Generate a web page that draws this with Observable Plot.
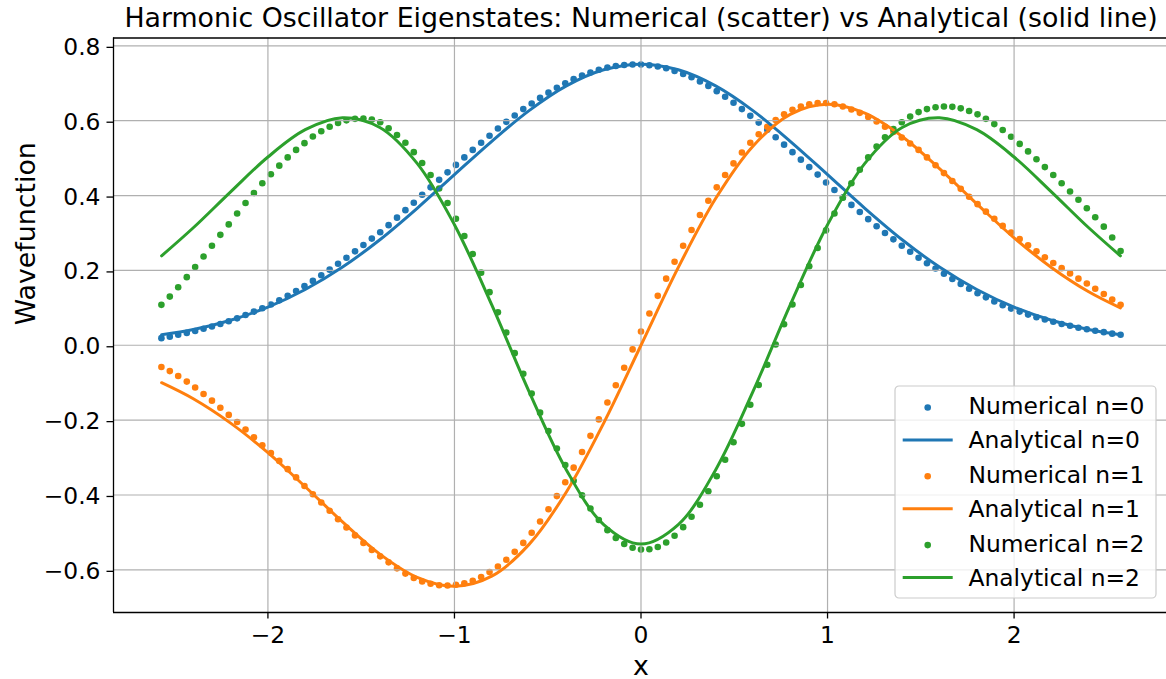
<!DOCTYPE html>
<html><head><meta charset="utf-8">
<script src="https://cdn.jsdelivr.net/npm/d3@7"></script>
<script src="https://cdn.jsdelivr.net/npm/@observablehq/plot@0.6"></script>
<style>
html,body{margin:0;padding:0;background:#fff;}
#wrap{position:relative;width:1166px;height:679px;overflow:hidden;font-family:"DejaVu Sans",sans-serif;}
</style></head><body><div id="wrap"></div>
<script>
// ---- texts ----
const titleText = "Harmonic Oscillator Eigenstates: Numerical (scatter) vs Analytical (solid line)";
const xLabel = "x";
const yLabel = "Wavefunction";
const xTicks = [-2, -1, 0, 1, 2];
const xTickLabels = ["\u22122", "\u22121", "0", "1", "2"];
const yTicks = [-0.6, -0.4, -0.2, 0, 0.2, 0.4, 0.6, 0.8];
const yTickLabels = ["\u22120.6", "\u22120.4", "\u22120.2", "0.0", "0.2", "0.4", "0.6", "0.8"];
const legendLabels = ["Numerical n=0", "Analytical n=0", "Numerical n=1", "Analytical n=1", "Numerical n=2", "Analytical n=2"];
const colors = ["#1f77b4", "#ff7f0e", "#2ca02c"];

// ---- numerical grid (scatter) ----
const xs = [-2.571,-2.526,-2.481,-2.435,-2.390,-2.345,-2.300,-2.255,-2.210,-2.165,-2.120,-2.075,-2.030,-1.984,-1.939,-1.894,-1.849,-1.804,-1.759,-1.714,-1.669,-1.624,-1.579,-1.533,-1.488,-1.443,-1.398,-1.353,-1.308,-1.263,-1.218,-1.173,-1.128,-1.082,-1.037,-0.992,-0.947,-0.902,-0.857,-0.812,-0.767,-0.722,-0.677,-0.631,-0.586,-0.541,-0.496,-0.451,-0.406,-0.361,-0.316,-0.271,-0.226,-0.180,-0.135,-0.090,-0.045,
 0.000,
 0.045,0.090,0.135,0.180,0.226,0.271,0.316,0.361,0.406,0.451,0.496,0.541,0.586,0.631,0.677,0.722,0.767,0.812,0.857,0.902,0.947,0.992,1.037,1.082,1.128,1.173,1.218,1.263,1.308,1.353,1.398,1.443,1.488,1.533,1.579,1.624,1.669,1.714,1.759,1.804,1.849,1.894,1.939,1.984,2.030,2.075,2.120,2.165,2.210,2.255,2.300,2.345,2.390,2.435,2.481,2.526,2.571];

const num0 = [0.019,0.023,0.028,0.033,0.038,0.044,0.050,0.057,0.064,0.072,0.081,0.090,0.099,0.109,0.120,0.132,0.145,0.158,0.172,0.187,0.202,0.218,0.234,0.251,0.268,0.285,0.302,
 0.321,0.341,0.361,0.381,0.402,0.422,0.442,0.462,0.482,0.502,0.522,0.541,0.560,0.579,0.597,0.614,0.631,0.646,0.661,0.675,0.688,0.700,0.711,0.721,0.729,0.736,0.742,0.746,0.749,0.750,
 0.750,0.748,0.745,0.740,0.733,0.725,0.716,0.705,0.693,0.679,0.664,0.648,0.631,0.613,0.595,0.576,0.556,0.536,0.516,0.496,0.476,0.456,0.435,0.415,0.395,0.375,0.356,0.337,0.318,0.300,0.283,0.266,0.250,0.234,
 0.219,0.205,0.191,0.177,0.164,0.151,0.139,0.128,0.117,0.107,0.098,0.090,0.082,0.075,0.069,0.063,0.057,0.052,0.047,0.043,0.039,0.035,0.031,0.028];

const num1 = [-0.058,-0.069,-0.082,-0.097,-0.113,-0.130,-0.148,-0.167,-0.186,-0.205,-0.225,-0.246,-0.267,-0.288,-0.309,-0.331,-0.353,-0.376,-0.398,-0.420,-0.442,-0.465,-0.487,-0.508,-0.528,-0.547,-0.564,
 -0.580,-0.596,-0.610,-0.622,-0.631,-0.637,-0.641,-0.642,-0.640,-0.636,-0.629,-0.619,-0.606,-0.591,-0.573,-0.552,-0.528,-0.501,-0.471,-0.438,-0.403,-0.366,-0.327,-0.285,-0.242,-0.198,-0.153,-0.107,-0.060,-0.011,
 0.037,0.085,0.132,0.178,0.223,0.266,0.308,0.348,0.386,0.422,0.455,0.486,0.515,0.541,0.564,0.584,0.602,0.617,0.629,0.638,0.644,0.647,0.647,0.644,0.638,0.630,0.621,0.610,0.598,0.584,0.570,0.555,0.539,0.522,
 0.502,0.481,0.460,0.439,0.418,0.397,0.377,0.357,0.338,0.319,0.301,0.284,0.267,0.251,0.235,0.220,0.206,0.192,0.178,0.165,0.151,0.137,0.122,0.108];

const num2 = [0.108,0.130,0.155,0.182,0.209,0.237,0.266,0.295,0.323,0.352,0.380,0.407,0.433,0.457,0.480,0.502,0.522,0.540,0.558,0.572,0.584,0.594,0.601,0.605,0.606,0.603,0.596,
 0.580,0.562,0.541,0.516,0.487,0.455,0.419,0.380,0.338,0.292,0.244,0.194,0.142,0.088,0.034,-0.021,-0.076,-0.129,-0.180,-0.229,-0.276,-0.320,-0.362,-0.401,-0.436,-0.467,-0.494,-0.515,-0.531,-0.541,
 -0.546,-0.545,-0.539,-0.527,-0.509,-0.486,-0.458,-0.426,-0.390,-0.350,-0.306,-0.259,-0.210,-0.159,-0.106,-0.052,0.002,0.056,0.109,0.161,0.211,0.260,0.307,0.352,0.394,0.433,0.469,0.502,0.531,0.556,0.578,0.596,0.611,0.623,
 0.631,0.636,0.638,0.637,0.633,0.626,0.617,0.605,0.591,0.575,0.557,0.538,0.518,0.497,0.476,0.455,0.433,0.411,0.389,0.366,0.342,0.317,0.288,0.252];

// ---- analytical curves (sampled) ----
const ax = [-2.57,-2.4,-2.2,-2.0,-1.8,-1.6,-1.4,-1.2,-1.0,-0.8,-0.6,-0.4,-0.2,0,0.2,0.4,0.6,0.8,1.0,1.2,1.4,1.6,1.8,2.0,2.2,2.4,2.57];
const ana0 = [0.028,0.042,0.067,0.102,0.149,0.209,0.282,0.366,0.456,0.545,0.627,0.693,0.736,0.751,0.736,0.693,0.627,0.545,0.456,0.366,0.282,0.209,0.149,0.102,0.067,0.042,0.028];
const ana1 = [-0.100,-0.143,-0.208,-0.287,-0.378,-0.472,-0.558,-0.620,-0.644,-0.617,-0.532,-0.392,-0.208,0,0.208,0.392,0.532,0.617,0.644,0.620,0.558,0.472,0.378,0.287,0.208,0.143,0.100];
const ana2 = [0.239,0.314,0.410,0.503,0.576,0.608,0.582,0.486,0.322,0.108,-0.124,-0.333,-0.479,-0.531,-0.479,-0.333,-0.124,0.108,0.322,0.486,0.582,0.608,0.576,0.503,0.410,0.314,0.239];

// ---- tables ----
const numSeries = [num0, num1, num2];
const anaSeries = [ana0, ana1, ana2];
const numTables = numSeries.map(s => xs.map((x, i) => ({x, y: s[i]})));
const anaTables = anaSeries.map(s => ax.map((x, i) => ({x, y: s[i]})));

const xDomain = [-2.8278, 2.8278];
const yDomain = [-0.714, 0.821];
const gridStyle = {stroke: "#b0b0b0", strokeOpacity: 1, strokeWidth: 1.2};

const chart = Plot.plot({
  width: 1166, height: 679,
  marginLeft: 113, marginRight: -2, marginTop: 37.5, marginBottom: 67,
  x: {domain: xDomain},
  y: {domain: yDomain},
  style: {fontFamily: "DejaVu Sans", background: "white", color: "black", overflow: "hidden"},
  marks: [
    ...numTables.map((t, k) => Plot.dot(t, {x: "x", y: "y", r: 3.3, fill: colors[k], stroke: "none"})),
    Plot.gridX(xTicks, gridStyle),
    Plot.gridY(yTicks, gridStyle),
    ...anaTables.map((t, k) => Plot.line(t, {x: "x", y: "y", stroke: colors[k], strokeWidth: 3, curve: "catmull-rom"})),
    Plot.ruleX([xDomain[0]], {stroke: "black", strokeWidth: 1.3}),
    Plot.ruleY([yDomain[0], yDomain[1]], {stroke: "black", strokeWidth: 1.3}),
    Plot.axisX(xTicks, {tickFormat: d => xTickLabels[xTicks.indexOf(d)], fontSize: 23.4, tickSize: 6.5, tickPadding: 7.2, strokeWidth: 1.3, label: null}),
    Plot.axisY(yTicks, {tickFormat: d => yTickLabels[yTicks.indexOf(d)], fontSize: 23.4, tickSize: 6.5, tickPadding: 6.5, strokeWidth: 1.3, label: null, dy: 1.5}),
    Plot.text([titleText], {frameAnchor: "top", lineAnchor: "bottom", dy: -11.5, fontSize: 26.8}),
    Plot.text([xLabel], {frameAnchor: "bottom", lineAnchor: "bottom", dy: 62, fontSize: 26.8}),
    Plot.text([yLabel], {frameAnchor: "left", lineAnchor: "bottom", rotate: -90, dx: -78.5, fontSize: 26.8})
  ]
});
document.getElementById("wrap").appendChild(chart);

// ---- legend ----
const lg = d3.select("#wrap").append("svg")
  .attr("width", 268).attr("height", 218)
  .style("position", "absolute").style("left", "892px").style("top", "383px")
  .style("font-family", "DejaVu Sans");
lg.append("rect").attr("x", 3).attr("y", 3).attr("width", 261).attr("height", 212).attr("rx", 4)
  .attr("fill", "white").attr("fill-opacity", 0.8).attr("stroke", "#cccccc").attr("stroke-width", 1.2);
legendLabels.forEach((lab, i) => {
  const cy = 22.5 + 34.4 * i;
  const c = colors[Math.floor(i / 2)];
  if (i % 2 === 0) {
    lg.append("circle").attr("cx", 35.7).attr("cy", cy + 2).attr("r", 3.3).attr("fill", c);
  } else {
    lg.append("line").attr("x1", 10.7).attr("x2", 60.7).attr("y1", cy).attr("y2", cy).attr("stroke", c).attr("stroke-width", 3);
  }
  lg.append("text").attr("x", 76.4).attr("y", cy + 8.5).attr("font-size", 23.4).attr("fill", "black").text(lab);
});
</script></body></html>
